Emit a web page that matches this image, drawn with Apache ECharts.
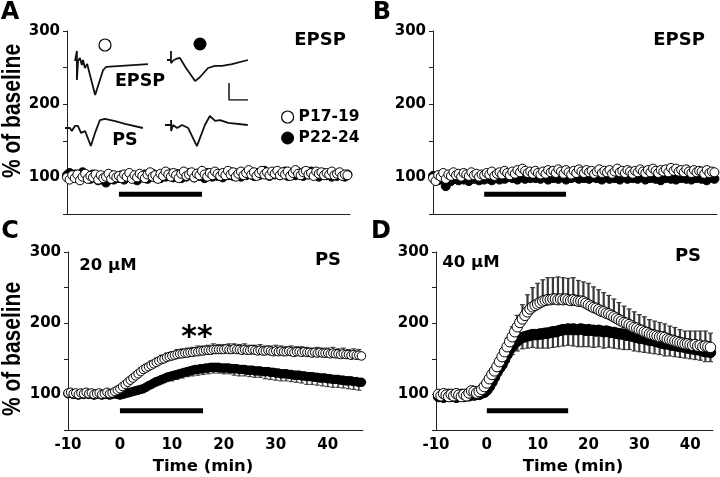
<!DOCTYPE html>
<html><head><meta charset="utf-8">
<script src="https://cdn.jsdelivr.net/npm/echarts@6/dist/echarts.min.js"></script>
<style>html,body{margin:0;padding:0;background:#fff}#c{width:720px;height:477px}</style>
</head><body><div id="c"></div>
<script>
// ---------------- DATA ----------------
const tStep = 0.5;               // minutes between samples
const xTicks = [-10, 0, 10, 20, 30, 40];
const yTicks = [100, 200, 300];
const drugStart = 0, drugEnd = 16, drugLevel = 77;

// Panel A (EPSP, 20 uM), samples from -10 min
const aStart = -10;
const aOpen = [
 100,97,103,99,104,96,101,105,98,102,100,104,97,103,99,101,105,98,103,100,
 102,99,104,101,106,98,103,100,105,102,99,104,107,101,103,98,105,102,108,104,
 101,106,103,99,105,108,102,104,107,100,105,103,109,104,101,106,103,108,105,102,
 106,103,109,104,107,101,105,108,103,106,110,104,107,102,106,109,104,107,103,108,
 105,109,103,107,104,108,102,106,110,105,103,107,109,104,106,102,108,105,107,103,
 106,104,108,103,105,107,102,104,103];
const aFilled = [
 103,106,101,104,99,102,107,100,103,98,104,101,96,102,99,93,100,103,97,101,
 99,103,97,101,104,99,102,96,103,100,104,98,102,105,100,103,99,104,101,106,
 103,100,105,102,99,104,101,106,103,100,105,102,104,99,106,103,101,105,102,104,
 100,105,103,107,102,104,106,101,105,103,108,104,102,106,103,105,109,104,102,106,
 104,107,103,105,108,102,106,104,103,107,105,102,106,104,108,103,105,101,104,106,
 103,105,101,104,102,106,103,101,104];

// Panel B (EPSP, 40 uM)
const bStart = -10;
const bOpen = [
 99,95,103,101,106,98,104,102,107,103,105,101,106,104,102,107,103,105,101,104,
 103,106,104,108,102,105,107,104,109,106,103,108,105,110,107,112,109,106,108,105,
 109,106,104,108,105,110,107,109,106,111,108,105,110,107,104,109,106,111,108,106,
 110,107,109,105,108,111,106,109,107,110,105,108,112,107,109,106,110,108,105,109,
 107,111,108,106,110,107,112,109,106,110,108,111,107,113,109,112,108,110,107,111,
 108,106,110,107,109,108,105,110,106,108,107];
const bFilled = [
 102,98,96,100,97,88,99,95,101,98,96,100,97,99,95,101,98,100,96,99,
 97,100,98,96,101,99,97,102,98,100,103,99,101,97,102,100,98,103,99,101,
 99,102,98,101,100,97,103,99,101,98,102,100,97,101,99,103,100,98,102,99,
 101,98,103,100,99,102,97,101,100,98,103,99,101,97,100,102,98,101,99,100,
 98,102,100,97,101,99,103,98,100,96,101,99,102,98,100,97,101,99,103,98,
 100,97,102,99,101,98,100,96,99,101,98];

// Panel C (PS, 20 uM)
const cStart = -10;
const cOpen = [
 102,103,101,102,100,102,101,103,101,102,100,101,102,100,101,103,101,102,104,106,
 108,111,114,117,120,123,126,129,132,135,137,139,141,143,145,147,149,150,152,153,
 154,155,156,157,157,158,158,159,159,160,160,161,161,162,162,162,163,163,163,163,
 163,164,163,163,164,163,163,162,163,162,162,163,162,161,162,161,161,162,161,160,
 161,160,161,160,160,161,160,159,160,160,159,160,159,159,158,159,158,159,158,158,
 158,157,158,157,157,156,157,156,156,155,156,155,155,154];
const cFilled = [
 101,102,100,101,99,101,100,102,100,101,99,100,101,99,100,101,99,100,101,100,
 99,100,101,102,103,104,105,106,107,108,110,112,114,116,118,119,121,122,124,125,
 126,127,128,129,130,131,132,133,134,135,135,136,136,137,137,138,138,138,138,137,
 137,137,137,136,136,136,135,135,135,134,134,134,133,133,133,132,132,132,131,131,
 130,130,129,129,129,128,128,127,127,127,126,126,125,125,125,124,124,123,123,123,
 122,122,121,121,121,120,120,119,119,119,118,118,117,117];
const cErrStart = -10;           // one error bar per minute
const cOpenErr = [
 3,3,2,3,3,3,2,3,3,3, 3,4,4,5,5,5,6,6,6,6, 6,7,7,7,7,8,7,7,8,7,
 7,8,7,7,8,7,7,8,7,7, 8,7,7,8,7,8,7,7,8,7, 7,8,7,8,7,8,8];
const cFilledErr = [
 3,3,3,2,3,3,3,2,3,3, 3,3,3,4,4,5,5,6,6,6, 7,7,7,7,8,8,8,8,8,8,
 8,8,9,9,9,9,9,9,10,10, 10,10,10,10,10,10,11,11,11,11, 11,11,11,11,11,11,11];

// Panel D (PS, 40 uM)
const dStart = -9.5;
const dOpen = [
 100,98,101,99,97,100,98,101,99,97,100,98,102,105,104,102,104,107,111,
 116,122,128,133,139,146,153,160,167,174,181,188,195,201,206,211,216,220,223,225,
 227,229,231,232,233,233,234,234,233,234,233,234,233,232,233,232,231,231,230,228,
 226,224,222,221,219,217,216,214,213,211,209,207,205,203,201,200,198,196,194,193,
 191,190,188,187,185,184,183,182,181,181,180,178,177,176,175,174,173,172,171,171,
 170,169,170,168,169,167,168,167,166];
const dFilled = [
 97,99,96,98,100,97,99,96,98,100,97,99,98,100,99,101,100,102,103,
 106,111,117,124,131,137,142,149,156,163,168,172,175,178,180,181,182,183,184,184,
 184,185,185,186,186,187,188,188,189,190,191,191,192,191,192,191,191,192,191,190,
 191,190,190,189,190,189,188,189,188,187,187,186,185,185,184,183,183,182,181,180,
 179,179,178,177,176,176,175,174,173,172,171,171,170,169,169,168,167,167,166,165,
 165,164,163,163,162,161,160,160,159];
const dErrStart = -9;
const dOpenErr = [
 5,4,5,6,5,4,5,6,7, 7,8,9,10,12,14,16,20,24,27, 29,30,31,30,32,31,30,31,29,28,
 30,29,28,27,26,25,24,23,22,22, 21,21,20,20,20,19,19,19,18,18, 19,19,20,21,20];
const dFilledErr = [
 4,5,4,6,5,4,5,4,5, 5,6,7,8,10,12,14,16,17,18, 19,20,21,22,22,23,23,24,24,24,
 24,24,23,23,22,22,21,21,20,20, 19,19,18,18,17,17,16,16,15,15, 15,14,14,14,13];

// Inset traces: [time (ms), voltage (mV)]
const traceEpspYoung = [[0,0],[0.5,0],[0.5,0.59],[0.5,-1.12],[0.8,0],[1.3,0.18],[1.8,-0.24],[2.1,0.06],[2.6,-0.41],[3.2,-0.18],[5.3,-2.0],[7.4,-0.53],[8.2,-0.35],[19.2,-0.18]];
const traceEpspOld = [[0,0],[1.05,0],[1.05,0.53],[1.05,-0.18],[1.8,0],[2.4,0.06],[3.4,0.12],[4.2,-0.18],[5.0,-0.47],[7.4,-1.24],[8.7,-1.0],[10.8,-0.47],[12.6,-0.35],[14.5,-0.35],[17.1,-0.24],[21.3,0]];
const tracePsYoung = [[0,0],[1.3,0],[1.8,-0.18],[2.6,0.12],[3.4,0.12],[4.2,-0.29],[5.3,-0.18],[6.8,-1.06],[7.9,-0.29],[9.2,0.47],[10.5,0.53],[13.2,0.41],[15.8,0.24],[20.5,0]];
const tracePsOld = [[0,0],[1.6,0],[1.6,0.29],[1.6,-0.35],[2.1,0],[3.2,-0.18],[4.5,0],[6.1,-0.18],[8.4,-1.24],[10.5,0],[11.8,0.53],[13.2,0.24],[14.5,0.29],[16.6,0.12],[21.8,0]];
const scaleBar = [[0,1],[0,0],[5,0]];   // 1 mV, 5 ms

// ---------------- CHART ----------------
const FONT = '"DejaVu Sans", sans-serif';
const chart = echarts.init(document.getElementById('c'), null, {renderer:'canvas'});

const panels = [
  {left:67,  top:31,  width:283, height:183, xMax:44.5, labels:false},
  {left:433, top:31,  width:284, height:183, xMax:45.5, labels:false},
  {left:68,  top:252, width:295, height:178, xMax:46.8, labels:true},
  {left:436, top:252, width:277, height:178, xMax:44.5, labels:true}
];
// inset placement: pixel of (0 ms, 0 mV); scale 3.8 px/ms, 17 px/mV
const PXMS = 3.8, PXMV = 17, insY = [-2.1, 0.7], insX = [0, 22];
const insets = [
  {ox:75,  oy:61,  data:traceEpspYoung},
  {ox:167, oy:60,  data:traceEpspOld},
  {ox:65,  oy:128, data:tracePsYoung},
  {ox:165, oy:125, data:tracePsOld}
];

const grid = [], xAxis = [], yAxis = [], series = [];
panels.forEach((p, i) => {
  grid.push({left:p.left, top:p.top, width:p.width, height:p.height, containLabel:false, outerBoundsMode:'none'});
  xAxis.push({type:'value', gridIndex:i, min:-10, max:p.xMax, interval:10,
    axisLine:{show:true, onZero:false, lineStyle:{color:'#222', width:1}},
    axisTick:{show:false}, splitLine:{show:false},
    axisLabel:{show:p.labels, margin:8, color:'#000', fontFamily:FONT, fontWeight:'bold', fontSize:15,
      formatter: v => xTicks.includes(v) ? String(v) : ''}});
  yAxis.push({type:'value', gridIndex:i, min:50, max:300, interval:50,
    axisLine:{show:true, onZero:false, lineStyle:{color:'#222', width:1}},
    axisTick:{show:true, length:4, lineStyle:{color:'#222'}}, splitLine:{show:false},
    axisLabel:{margin:7, color:'#000', fontFamily:FONT, fontWeight:'bold', fontSize:15,
      formatter: v => yTicks.includes(v) ? String(v) : ''}});
});
insets.forEach((s, k) => {
  const gi = 4 + k;
  grid.push({left:s.ox, top:s.oy - insY[1]*PXMV, width:(insX[1]-insX[0])*PXMS, height:(insY[1]-insY[0])*PXMV, containLabel:false, outerBoundsMode:'none'});
  xAxis.push({type:'value', gridIndex:gi, min:insX[0], max:insX[1], show:false});
  yAxis.push({type:'value', gridIndex:gi, min:insY[0], max:insY[1], show:false});
  series.push({type:'line', xAxisIndex:gi, yAxisIndex:gi, data:s.data, symbol:'none', silent:true,
    lineStyle:{color:'#111', width:1.8}, z:5});
});
// scale bar grid
grid.push({left:229, top:83, width:5*PXMS, height:1*PXMV, containLabel:false, outerBoundsMode:'none'});
xAxis.push({type:'value', gridIndex:8, min:0, max:5, show:false});
yAxis.push({type:'value', gridIndex:8, min:0, max:1, show:false});
series.push({type:'line', xAxisIndex:8, yAxisIndex:8, data:scaleBar, symbol:'none', silent:true, lineStyle:{color:'#111', width:1.5}});

const pts = (start, vals) => vals.map((v, i) => [start + i*tStep, v]);
const errPts = (eStart, errs, start, vals, dir) => errs.map((e, k) => {
  const t = eStart + k; const m = vals[Math.round((t - start)/tStep)];
  return [t, m, m + dir*e];
});
function errSeries(gi, data, color, w) {
  return {type:'custom', xAxisIndex:gi, yAxisIndex:gi, silent:true, data, encode:{x:0, y:[1,2]},
    renderItem(params, api) {
      const p0 = api.coord([api.value(0), api.value(1)]);
      const p1 = api.coord([api.value(0), api.value(2)]);
      return {type:'group', children:[
        {type:'line', shape:{x1:p0[0], y1:p0[1], x2:p1[0], y2:p1[1]}, style:{stroke:color, lineWidth:w}},
        {type:'line', shape:{x1:p1[0]-2.5, y1:p1[1], x2:p1[0]+2.5, y2:p1[1]}, style:{stroke:color, lineWidth:1.2}}
      ]};
    }};
}
const openStyle = {color:'#fff', borderColor:'#000', borderWidth:1, opacity:1};
const filledStyle = {color:'#000', borderColor:'#000', borderWidth:1, opacity:1};
function scat(gi, name, data, size, style) {
  return {type:'scatter', name, xAxisIndex:gi, yAxisIndex:gi, data, symbol:'circle', symbolSize:size, itemStyle:style, silent:true};
}
const sets = [
  {gi:0, s:aStart, o:aOpen, f:aFilled, size:9},
  {gi:1, s:bStart, o:bOpen, f:bFilled, size:9},
  {gi:2, s:cStart, o:cOpen, f:cFilled, size:8.5, es:cErrStart, oe:cOpenErr, fe:cFilledErr, ec:'#444', ew:1.6},
  {gi:3, s:dStart, o:dOpen, f:dFilled, size:10.5, es:dErrStart, oe:dOpenErr, fe:dFilledErr, ec:'#3a3a3a', ew:2.2}
];
sets.forEach((d, i) => {
  // drug application bar
  series.push({type:'line', xAxisIndex:d.gi, yAxisIndex:d.gi, data:[[drugStart, drugLevel],[drugEnd, drugLevel]],
    symbol:'none', silent:true, lineStyle:{color:'#000', width:5}});
  if (d.fe) series.push(errSeries(d.gi, errPts(d.es, d.fe, d.s, d.f, -1), d.ec, d.ew));
  series.push(scat(d.gi, i === 0 ? 'P22-24' : 'old' + i, pts(d.s, d.f), d.size, filledStyle));
  if (d.oe) series.push(errSeries(d.gi, errPts(d.es, d.oe, d.s, d.o, 1), d.ec, d.ew));
  series.push(scat(d.gi, i === 0 ? 'P17-19' : 'young' + i, pts(d.s, d.o), d.size, openStyle));
});

const T = (x, y, text, size, extra) => Object.assign({type:'text', x, y, silent:true,
  style:{text, font:'bold ' + size + 'px ' + FONT, fill:'#000', align:'center', verticalAlign:'middle', textAlign:'center', textVerticalAlign:'middle'}}, extra || {});
const graphic = [
  T(10, 13, 'A', 24), T(382, 13, 'B', 24), T(10, 232, 'C', 24), T(381, 232, 'D', 24),
  T(320, 40, 'EPSP', 18), T(679, 40, 'EPSP', 18), T(328, 260, 'PS', 18), T(688, 256, 'PS', 18),
  T(108, 266, '20 μM', 16.5), T(471, 263, '40 μM', 16.5),
  T(197, 338, '**', 30),
  T(140, 81, 'EPSP', 17.5), T(125, 140, 'PS', 17.5),
  T(203, 467, 'Time (min)', 16.5), T(573, 467, 'Time (min)', 16.5),
  {type:'text', x:12.5, y:111, rotation:Math.PI/2, scaleY:1.24, silent:true,
    style:{text:'% of baseline', font:'bold 21px "Liberation Sans", Arial, sans-serif', fill:'#000', align:'center', verticalAlign:'middle', textAlign:'center', textVerticalAlign:'middle'}},
  {type:'text', x:12.5, y:349, rotation:Math.PI/2, scaleY:1.24, silent:true,
    style:{text:'% of baseline', font:'bold 21px "Liberation Sans", Arial, sans-serif', fill:'#000', align:'center', verticalAlign:'middle', textAlign:'center', textVerticalAlign:'middle'}},
  {type:'circle', x:105, y:45, silent:true, shape:{r:6}, style:{fill:'#fff', stroke:'#000', lineWidth:1.2}},
  {type:'circle', x:200, y:44, silent:true, shape:{r:6.5}, style:{fill:'#000'}}
];

chart.setOption({
  animation:false,
  backgroundColor:'#fff',
  legend:{left:276, top:104, orient:'vertical', itemGap:5, itemWidth:12, itemHeight:12, selectedMode:false,
    textStyle:{fontFamily:FONT, fontWeight:'bold', fontSize:15.5, color:'#000'},
    data:[{name:'P17-19', icon:'circle', itemStyle:{color:'#fff', borderColor:'#000', borderWidth:1.2, opacity:1}},
          {name:'P22-24', icon:'circle', itemStyle:{color:'#000', borderColor:'#000', borderWidth:1, opacity:1}}]},
  grid, xAxis, yAxis, series, graphic
});
</script></body></html>
